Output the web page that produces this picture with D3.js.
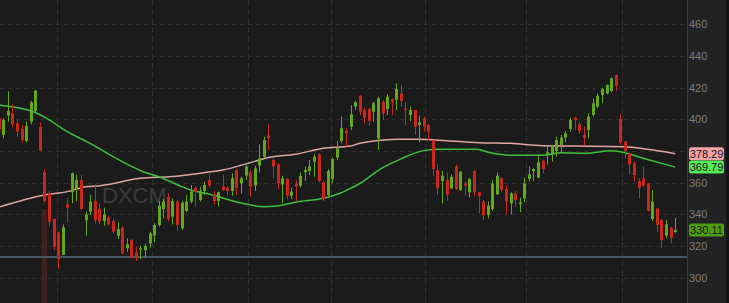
<!DOCTYPE html>
<html><head><meta charset="utf-8">
<script src="https://cdn.jsdelivr.net/npm/d3@7"></script>
<style>html,body{margin:0;padding:0;background:#1b1b1b;overflow:hidden}svg{display:block}</style>
</head><body><svg id="c" width="729" height="303"></svg>
<script>
const symbol = "DXCM";
// daily candles, first value = leftmost (partially hidden) bar
const opens = [400.6,390.1,402.3,403.8,397.4,393.9,386.3,398.5,405.2,395.3,366.5,353.2,337.0,328.6,314.3,346.3,353.9,356.0,361.6,336.2,341.6,348.4,343.1,335.7,337.9,335.7,326.5,331.5,318.5,323.7,316.0,317.8,317.4,321.6,326.5,333.2,343.3,350.9,338.5,348.0,331.1,342.1,348.0,356.8,349.0,354.7,361.6,352.6,348.4,357.6,356.8,354.7,367.9,359.5,364.4,366.5,358.1,370.7,376.4,389.7,374.3,371.5,358.9,362.3,351.7,359.5,358.1,366.5,367.3,373.2,377.9,360.2,352.2,362.3,375.8,386.3,392.6,395.3,408.0,414.9,405.9,406.5,404.8,388.0,411.1,406.5,412.8,412.2,416.4,406.7,402.7,405.9,396.4,400.6,396.4,386.9,368.0,361.0,361.6,356.4,370.1,355.3,359.5,353.9,367.3,353.9,348.0,339.5,343.3,352.6,362.7,356.0,346.9,353.2,346.3,350.1,362.3,367.3,363.1,373.6,377.9,377.9,380.0,383.8,388.4,393.9,401.0,396.8,390.1,393.2,402.7,408.0,415.3,416.4,417.9,428.0,400.2,385.9,378.5,372.2,361.0,362.7,359.5,337.0,343.7,336.4,326.5,331.5,328.8];
const highs = [401.7,400.6,417.5,409.4,399.5,396.4,398.5,411.6,418.5,397.9,368.4,354.7,337.4,329.0,333.6,350.1,366.5,364.8,364.8,341.6,352.2,358.9,346.9,344.2,339.1,337.0,334.9,332.2,324.8,324.4,319.5,320.2,321.6,329.0,334.3,348.4,349.6,353.2,350.1,349.0,348.4,352.2,358.5,357.4,357.2,360.6,365.2,354.7,354.3,364.8,358.1,365.9,368.6,363.7,371.1,368.0,370.7,384.2,389.0,396.8,375.3,372.2,364.4,363.1,356.8,361.6,366.5,370.1,374.3,377.9,378.5,361.6,368.6,375.8,386.3,401.7,394.3,409.0,411.6,415.3,407.3,407.3,411.1,414.3,412.2,415.8,413.2,422.7,421.7,410.7,408.0,406.0,402.3,401.7,397.4,386.9,371.5,367.3,366.5,365.2,371.5,367.3,360.6,362.7,367.9,353.9,349.0,348.0,361.6,366.5,363.1,358.1,353.9,354.7,350.5,363.1,370.1,369.0,377.9,374.3,382.7,383.8,389.0,390.1,392.6,401.0,401.7,398.5,395.3,403.8,413.2,416.4,420.0,422.1,426.3,428.4,403.1,386.3,379.1,373.2,362.7,370.1,359.5,355.3,343.7,337.0,336.4,332.2,337.8];
const lows = [392.2,388.0,398.5,395.3,389.0,385.4,385.4,396.8,404.8,379.8,347.5,332.2,317.4,305.4,314.3,334.9,346.9,348.4,342.7,326.5,339.5,334.3,333.6,332.8,332.8,327.9,324.4,314.7,316.4,312.2,310.5,311.7,312.6,318.9,322.3,332.2,337.4,335.3,333.6,329.4,330.1,341.2,346.9,344.8,348.0,352.2,356.8,346.3,345.0,354.7,351.7,351.7,352.2,353.2,361.6,351.1,354.7,366.5,375.3,380.6,362.7,356.0,346.9,349.6,349.6,348.0,356.8,361.0,364.8,363.7,360.2,348.4,350.5,359.5,374.3,384.8,382.7,393.2,405.9,402.7,397.4,396.0,398.5,380.6,399.5,402.7,402.7,405.9,408.0,396.4,398.9,390.1,385.4,392.2,386.9,364.4,352.2,346.9,348.4,356.0,355.3,354.7,351.7,350.5,351.7,340.6,336.4,337.4,342.1,352.2,353.9,340.0,340.0,344.8,341.2,347.5,360.6,361.0,362.7,365.9,371.5,373.2,376.4,379.1,385.4,392.2,393.2,391.1,383.3,388.0,401.7,406.9,410.1,415.8,417.0,417.9,384.2,375.3,365.2,360.6,350.1,357.4,341.6,335.7,329.0,318.5,324.8,321.6,328.2];
const closes = [393.2,399.6,405.2,396.8,392.2,386.9,395.8,410.7,418.1,380.2,348.4,335.3,319.5,311.7,331.7,344.2,365.9,361.6,343.3,340.0,348.0,336.4,335.3,340.0,333.6,329.0,330.7,315.3,321.0,312.6,312.2,318.5,319.9,327.9,333.2,345.4,348.0,337.0,348.4,333.2,347.3,348.0,354.3,354.3,354.7,358.5,358.1,348.4,353.9,355.3,354.7,362.7,356.8,362.7,370.1,357.4,369.0,375.3,386.9,388.0,370.1,359.5,362.7,351.7,354.3,357.4,364.2,368.0,370.1,376.4,361.0,349.6,367.3,374.9,381.6,394.3,391.1,403.1,410.7,404.8,401.0,398.9,410.1,413.2,403.8,414.3,410.7,419.1,411.6,405.9,405.9,395.3,398.1,395.3,392.2,368.6,356.4,364.4,352.2,363.7,356.0,366.9,358.1,362.3,353.9,351.7,339.5,345.4,359.5,364.4,355.3,348.0,353.2,349.0,347.5,359.5,365.2,368.6,372.8,368.6,379.1,383.3,386.9,388.4,391.1,399.5,399.5,392.6,388.4,401.7,410.1,414.9,419.1,421.7,425.9,421.2,385.4,380.0,371.5,364.8,356.8,358.1,342.1,348.0,333.2,323.7,333.6,325.2,330.11];
// moving averages, sampled at candle numbers (first candle = -1)
const smaLongAt  = [-1,9,14,18,21,30,37,44,48,55,58,64,70,76,78,87,91,97,104,111,118,125,136,141,147];
const smaLongVal = [344.5,352.2,354.3,357.4,358.0,362.7,363.9,366.3,368.0,373.4,375.8,377.9,381.7,383.1,384.8,387.4,387.4,386.5,385.2,384.8,383.3,383.1,382.7,381.0,378.29];
const smaShortAt  = [-1,6.6,9.5,14,19,24,30.6,34.3,38.7,41,45.2,51.8,57,59.8,64.2,70,73.7,76,78.1,82.4,86.8,92,95.6,103.6,106.5,111,118,122,127.7,132.8,135,140,147];
const smaShortVal = [409.0,404.8,400.6,392.2,384.8,376.4,366.9,363.4,357.9,355.3,352.6,347.3,344.8,345.2,347.8,350.1,353.3,356.4,359.6,368.4,374.7,380.2,381.0,381.0,378.9,377.3,377.3,378.9,378.5,380.2,379.5,375.4,369.79];
const yTicks = [300,320,340,360,400,420,440,460];
const gridValues = [300,320,340,360,380,400,420,440,460];
const monthBreaks = [11.68,32.6,53.6,71.6,92.3,114.4,135.4];
const supportLevel = 313.0;
const eventCandle = 9, eventTop = 343;
const priceTags = [
  {value:378.29, label:"378.29", fill:"#f4a3a3"},
  {value:369.79, label:"369.79", fill:"#58e858"},
  {value:330.11, label:"330.11", fill:"#4f9e10"}
];

const W = 729, H = 303, plotRight = 687;
const svg = d3.select("#c");
const x = d3.scaleLinear().domain([-1,147]).range([-1.27,675.1]);
const y = d3.scaleLinear().domain([300,460]).range([277.6,24.3]);
const candles = opens.map((o,i)=>({n:i-1,o,h:highs[i],l:lows[i],c:closes[i]}));

svg.append("rect").attr("width",W).attr("height",H).attr("fill","#1b1b1b");
svg.append("rect").attr("x",plotRight).attr("width",W-plotRight).attr("height",H).attr("fill","#232323");
svg.append("line").attr("x1",plotRight+0.5).attr("x2",plotRight+0.5).attr("y1",0).attr("y2",H).attr("stroke","#3a3a3a");
svg.append("rect").attr("x",726).attr("width",3).attr("height",H).attr("fill","#141414");

const plot = svg.append("g");
plot.append("g").selectAll("line").data(gridValues).join("line")
  .attr("x1",0).attr("x2",plotRight).attr("y1",d=>Math.round(y(d))+0.5).attr("y2",d=>Math.round(y(d))+0.5)
  .attr("stroke","#2d2d2d").attr("stroke-dasharray","4,4");
plot.append("g").selectAll("line").data(monthBreaks).join("line")
  .attr("x1",d=>Math.round(x(d))+0.5).attr("x2",d=>Math.round(x(d))+0.5).attr("y1",0).attr("y2",H)
  .attr("stroke","#2f2f2f").attr("stroke-dasharray","6,3");

plot.append("text").attr("x",102).attr("y",203).text(symbol)
  .attr("font-family","Liberation Sans, Arial, sans-serif").attr("font-size",22).attr("fill","#3b3b3b");

plot.append("rect").attr("x",x(eventCandle)-2.5).attr("width",5).attr("y",y(eventTop)).attr("height",H-y(eventTop))
  .attr("fill","#b83a2a").attr("opacity",0.22);

plot.append("line").attr("x1",0).attr("x2",plotRight).attr("y1",y(supportLevel)).attr("y2",y(supportLevel))
  .attr("stroke","#56687a").attr("stroke-width",1.6);

const line = d3.line().x(d=>x(d[0])).y(d=>y(d[1])).curve(d3.curveMonotoneX);
plot.append("path").datum(smaLongAt.map((a,i)=>[a,smaLongVal[i]])).attr("d",line)
  .attr("fill","none").attr("stroke","#e0a6a6").attr("stroke-width",1.5);
plot.append("path").datum(smaShortAt.map((a,i)=>[a,smaShortVal[i]])).attr("d",line)
  .attr("fill","none").attr("stroke","#3fbf3f").attr("stroke-width",1.5);

const up = "#62a81a", down = "#c9261c";
const g = plot.append("g").selectAll("g").data(candles).join("g");
g.append("line").attr("x1",d=>Math.round(x(d.n))+0.5).attr("x2",d=>Math.round(x(d.n))+0.5)
  .attr("y1",d=>y(d.h)).attr("y2",d=>y(d.l)).attr("stroke",d=>d.c>=d.o?up:down).attr("stroke-width",1);
g.append("rect").attr("x",d=>Math.round(x(d.n))-1).attr("width",3)
  .attr("y",d=>y(Math.max(d.o,d.c))).attr("height",d=>Math.max(1,Math.abs(y(d.o)-y(d.c))))
  .attr("fill",d=>d.c>=d.o?up:down);

const axis = d3.axisRight(y).tickValues(yTicks).tickSize(0).tickPadding(2).tickFormat(d3.format("d"));
const ag = svg.append("g").attr("transform",`translate(${plotRight},0)`).call(axis);
ag.select(".domain").remove();
ag.selectAll("text").attr("font-family","Liberation Sans, Arial, sans-serif").attr("font-size",11).attr("fill","#7c7c7c");

const tg = svg.append("g").selectAll("g").data(priceTags).join("g");
tg.append("rect").attr("x",689).attr("width",35).attr("y",d=>y(d.value)-6.5).attr("height",13).attr("rx",2.5).attr("fill",d=>d.fill);
tg.append("text").attr("x",706.5).attr("y",d=>y(d.value)+4).attr("text-anchor","middle").text(d=>d.label)
  .attr("font-family","Liberation Sans, Arial, sans-serif").attr("font-size",11).attr("fill","#141414");
</script></body></html>
